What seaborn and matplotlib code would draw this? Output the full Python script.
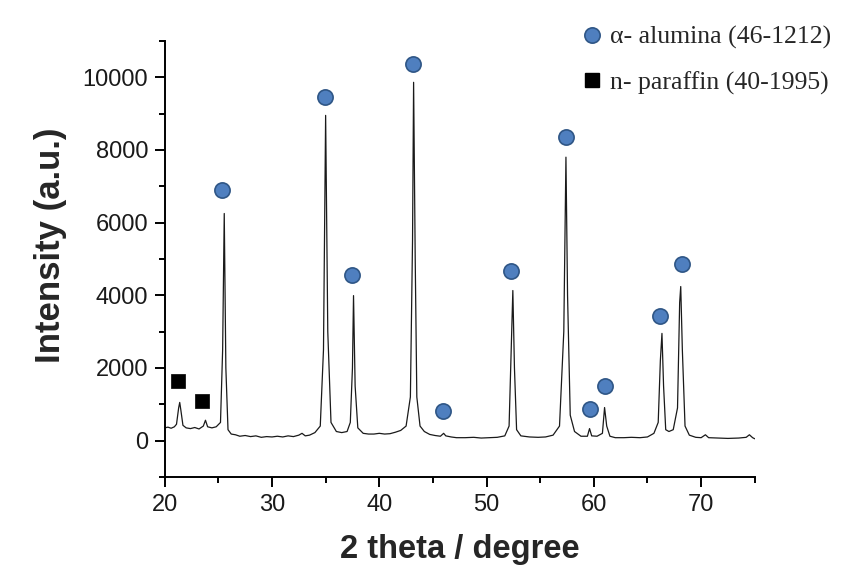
import matplotlib
matplotlib.use("Agg")
import matplotlib.pyplot as plt
from matplotlib.ticker import MultipleLocator
from matplotlib.lines import Line2D
import seaborn as sns
import pandas as pd

# XRD pattern
two_theta = [20.0, 20.3, 20.6, 20.9, 21.1, 21.3, 21.4, 21.5, 21.7, 22.0, 22.4, 22.8, 23.2, 23.6, 23.8, 24.0,
             24.4, 24.8, 25.2, 25.4, 25.55, 25.7, 25.9, 26.2, 26.6, 27.0, 27.5, 28.0, 28.5, 29.0, 29.5, 30.0,
             30.5, 31.0, 31.5, 32.0, 32.5, 32.8, 33.1, 33.5, 34.0, 34.5, 34.8, 35.0, 35.2, 35.5, 36.0, 36.5,
             37.0, 37.3, 37.5, 37.6, 37.75, 38.0, 38.5, 39.0, 39.5, 40.0, 40.5, 41.0, 41.5, 42.0, 42.5, 42.9,
             43.1, 43.2, 43.35, 43.5, 43.8, 44.2, 44.7, 45.2, 45.7, 46.0, 46.2, 46.7, 47.2, 48.0, 48.8, 49.5,
             50.3, 51.0, 51.7, 52.1, 52.3, 52.45, 52.6, 52.8, 53.2, 54.0, 54.8, 55.5, 56.2, 56.8, 57.2, 57.4,
             57.55, 57.8, 58.2, 58.8, 59.4, 59.6, 59.8, 60.3, 60.8, 61.0, 61.2, 61.5, 62.0, 62.8, 63.5, 64.3,
             65.0, 65.6, 66.0, 66.2, 66.35, 66.5, 66.7, 67.0, 67.4, 67.8, 68.0, 68.1, 68.25, 68.5, 68.9, 69.5,
             70.0, 70.4, 70.7, 71.5, 72.5, 73.5, 74.2, 74.5, 74.8, 75.0]
intensity = [350, 370, 340, 380, 450, 900, 1050, 850, 420, 350, 330, 360, 320, 400, 560, 380,
             350, 380, 500, 2500, 6250, 2000, 300, 180, 160, 120, 140, 110, 130, 90, 110, 100,
             120, 100, 130, 110, 150, 200, 130, 150, 220, 400, 2500, 8950, 3000, 500, 250, 220,
             250, 500, 2000, 3990, 1500, 350, 200, 180, 180, 200, 180, 190, 230, 280, 400, 1200,
             5500, 9860, 5000, 1200, 400, 250, 170, 140, 120, 200, 130, 100, 80, 80, 90, 70,
             80, 90, 130, 400, 2500, 4130, 2000, 300, 130, 100, 90, 100, 150, 400, 3000, 7800,
             4000, 700, 250, 120, 120, 330, 130, 120, 200, 910, 400, 120, 80, 80, 90, 80,
             100, 200, 500, 2200, 2950, 1500, 300, 250, 300, 900, 3800, 4240, 2500, 400, 150, 90,
             80, 160, 80, 70, 60, 70, 90, 160, 80, 50]

# phase markers
alumina_x = [25.3, 34.9, 37.5, 43.1, 45.9, 52.3, 57.4, 59.6, 61.0, 66.2, 68.2]
alumina_y = [6890, 9450, 4545, 10360, 826, 4680, 8350, 880, 1490, 3440, 4850]
paraffin_x = [21.2, 23.5]
paraffin_y = [1650, 1100]

legend_labels = ["\u03b1- alumina (46-1212)", "n- paraffin (40-1995)"]

sns.set_theme(style="ticks")
plt.rcParams['font.family'] = ['Liberation Sans', 'DejaVu Sans']

fig = plt.figure(figsize=(8.49, 5.76), dpi=100)
ax = fig.add_axes([0.194, 0.172, 0.695, 0.757])

df = pd.DataFrame({"x": two_theta, "y": intensity})
sns.lineplot(data=df, x="x", y="y", ax=ax, color="#1a1a1a", linewidth=0.9, sort=False)

sns.scatterplot(x=alumina_x, y=alumina_y, ax=ax, marker="o", s=120, color="#4f7fbf",
                edgecolor="#2f5686", linewidth=1.2, zorder=5)
sns.scatterplot(x=paraffin_x, y=paraffin_y, ax=ax, marker="s", s=110, color="black",
                edgecolor="black", linewidth=0.5, zorder=5)

ax.set_xlim(20, 75)
ax.set_ylim(-1000, 11000)
ax.xaxis.set_major_locator(MultipleLocator(10))
ax.xaxis.set_minor_locator(MultipleLocator(5))
ax.yaxis.set_major_locator(MultipleLocator(2000))
ax.yaxis.set_minor_locator(MultipleLocator(1000))
ax.tick_params(which="major", direction="out", length=7, width=1.4, labelsize=17, color="black",
               labelcolor="#1a1a1a", pad=5)
ax.tick_params(which="minor", direction="out", length=4, width=1.4, color="black")
for side in ["top", "right"]:
    ax.spines[side].set_visible(False)
for side in ["left", "bottom"]:
    ax.spines[side].set_linewidth(1.4)
    ax.spines[side].set_color("black")

ax.set_xlabel("2 theta / degree", fontsize=23.5, fontweight="bold", labelpad=13)
ax.set_ylabel("Intensity (a.u.)", fontsize=25, fontweight="bold")
ax.yaxis.set_label_coords(-0.165, 0.532)

handles = [
    Line2D([], [], marker="o", linestyle="none", markersize=11, markerfacecolor="#4f7fbf",
           markeredgecolor="#2f5686", markeredgewidth=1.2),
    Line2D([], [], marker="s", linestyle="none", markersize=10, markerfacecolor="black",
           markeredgecolor="black"),
]
fig.legend(handles, legend_labels, loc="upper left", bbox_to_anchor=(0.652, 0.995),
           frameon=False, prop={"family": "Liberation Serif", "size": 18.5},
           handletextpad=0.1, labelspacing=0.85, handlelength=1.2)

fig.savefig("out.png", dpi=100)
